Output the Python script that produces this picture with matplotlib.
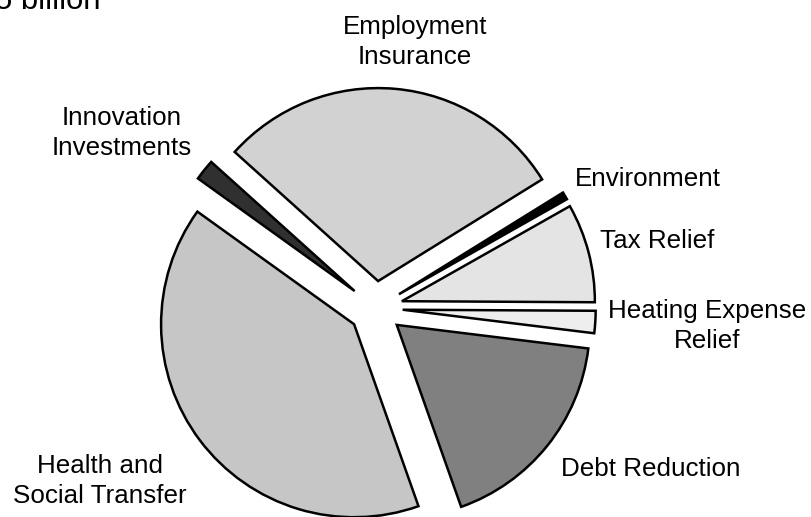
import matplotlib
matplotlib.use("Agg")
import matplotlib.pyplot as plt

plt.rcParams['font.family'] = ['Liberation Sans', 'DejaVu Sans']

# Allocation shares (percent of total), clockwise from the top slice
categories = ["Employment\nInsurance", "Environment", "Tax Relief",
              "Heating Expense\nRelief", "Debt Reduction",
              "Health and\nSocial Transfer", "Innovation\nInvestments"]
shares = [29.5, 0.64, 8.28, 1.86, 17.64, 40.33, 1.75]

fills = ["#d2d2d2", "#000000", "#e4e4e4", "#eeeeee", "#808080", "#c6c6c6", "#303030"]

W, H = 811, 517
fig = plt.figure(figsize=(W / 100, H / 100), dpi=100)
ax = fig.add_axes([0, 0, 1, 1])

cx, cy, r = 375.7, 308.0, 193.0   # pie centre / radius in pixels
explode = [0.14] * len(shares)

ax.pie(shares, startangle=138, counterclock=False, explode=explode,
       colors=fills,
       wedgeprops=dict(edgecolor="black", linewidth=1.8))

ax.set_xlim(-cx / r, (W - cx) / r)
ax.set_ylim(-(H - cy) / r, cy / r)
ax.set_aspect("equal", adjustable="box")
ax.axis("off")

# label placement (pixel positions, origin top-left)
label_pos = {
    "Employment\nInsurance": (415, 42, "center"),
    "Environment": (575, 179, "left"),
    "Tax Relief": (657, 241, "center"),
    "Heating Expense\nRelief": (707, 326, "center"),
    "Debt Reduction": (651, 469, "center"),
    "Health and\nSocial Transfer": (100, 481, "center"),
    "Innovation\nInvestments": (122, 133, "center"),
}
for name in categories:
    x, y, ha = label_pos[name]
    fig.text(x / W, 1 - y / H, name, ha=ha, va="center", fontsize=18.7,
             linespacing=1.35, multialignment="center")

fig.text(-5 / W, 1 - 9 / H, "5 billion", ha="left", va="baseline", fontsize=22.3)

fig.savefig("out.png", dpi=100)
